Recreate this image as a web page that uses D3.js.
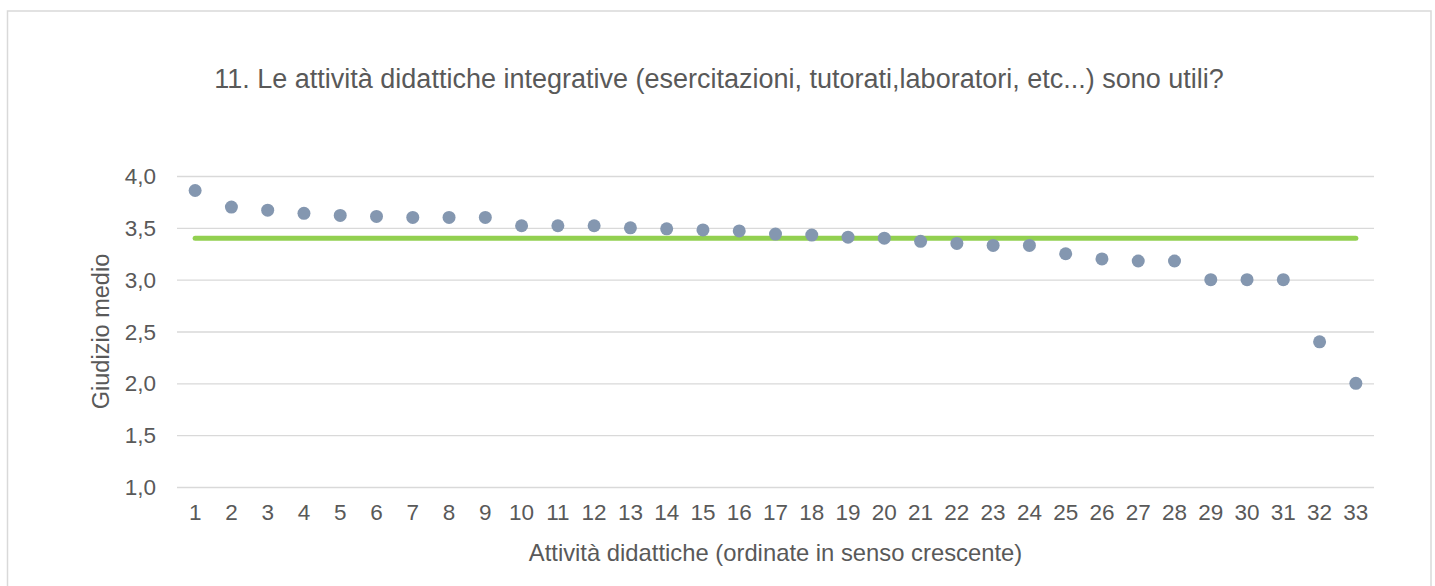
<!DOCTYPE html>
<html>
<head>
<meta charset="utf-8">
<script src="https://d3js.org/d3.v7.min.js"></script>
<style>
    body { margin: 0; background: #ffffff; overflow: hidden; }
    text { font-family: "Liberation Sans", Arial, sans-serif; fill: #595959; }
</style>
</head>
<body>
<div id="containerChart"></div>
<script>

// data
var activities = d3.range(1, 34);
var averageScores = [3.86, 3.70, 3.67, 3.64, 3.62, 3.61, 3.60, 3.60, 3.60, 3.52,
                     3.52, 3.52, 3.50, 3.49, 3.48, 3.47, 3.44, 3.43, 3.41, 3.40,
                     3.37, 3.35, 3.33, 3.33, 3.25, 3.20, 3.18, 3.18, 3.00, 3.00,
                     3.00, 2.40, 2.00];
var overallAverage = 3.40;
var yTicks = [1.0, 1.5, 2.0, 2.5, 3.0, 3.5, 4.0];

var chartTitle = "11. Le attività didattiche integrative (esercitazioni, tutorati,laboratori, etc...) sono utili?";
var xTitle = "Attività didattiche (ordinate in senso crescente)";
var yTitle = "Giudizio medio";

// characteristics for svg and plot area
var outerWidth = 1435;
var outerHeight = 586;
var margin = { left: 177, top: 176, right: 61, bottom: 99 };

var svg = d3.select("#containerChart")
    .append("svg")
    .attr("width", outerWidth)
    .attr("height", outerHeight)
    .style("display", "block");

// chart border (bottom edge runs past the picture)
svg.append("path")
    .attr("d", "M7.5,586V11H1431V586")
    .attr("fill", "none")
    .attr("stroke", "#d9d9d9")
    .attr("stroke-width", 1.5);

// scales in page coordinates
var xScale = d3.scaleBand().domain(activities).range([margin.left, outerWidth - margin.right]);
var yScale = d3.scaleLinear().domain([1, 4]).range([outerHeight - margin.bottom, margin.top]);

var fmt = function(d) { return d3.format(".1f")(d).replace(".", ","); };
var xCenter = function(d) { return xScale(d) + xScale.bandwidth() / 2; };

// gridlines
var gridG = svg.append("g")
    .attr("transform", "translate(" + margin.left + ",0)")
    .call(d3.axisLeft(yScale)
        .tickValues(yTicks)
        .tickSize(-(outerWidth - margin.left - margin.right))
        .tickFormat(""));
gridG.select(".domain").remove();
gridG.selectAll("line").attr("stroke", "#d9d9d9").attr("stroke-width", 1.4);
gridG.selectAll("text").remove();

// y labels
svg.selectAll("text.ylabel")
    .data(yTicks)
    .enter()
    .append("text")
    .attr("class", "ylabel")
    .attr("x", margin.left - 21)
    .attr("y", function(d) { return yScale(d) + 8; })
    .attr("text-anchor", "end")
    .style("font-size", "22.5px")
    .text(fmt);

// x labels
svg.selectAll("text.xlabel")
    .data(activities)
    .enter()
    .append("text")
    .attr("class", "xlabel")
    .attr("x", xCenter)
    .attr("y", yScale(1) + 33)
    .attr("text-anchor", "middle")
    .style("font-size", "22.5px")
    .text(function(d) { return d; });

// average line
svg.append("line")
    .attr("x1", xCenter(activities[0]))
    .attr("x2", xCenter(activities[activities.length - 1]))
    .attr("y1", yScale(overallAverage))
    .attr("y2", yScale(overallAverage))
    .attr("stroke", "#92d050")
    .attr("stroke-width", 5)
    .attr("stroke-linecap", "round");

// points
svg.selectAll("circle")
    .data(averageScores)
    .enter()
    .append("circle")
    .attr("cx", function(d, i) { return xCenter(activities[i]); })
    .attr("cy", function(d) { return yScale(d); })
    .attr("r", 6.5)
    .attr("fill", "#8497b0");

// titles
svg.append("text")
    .attr("x", 719)
    .attr("y", 88)
    .attr("text-anchor", "middle")
    .style("font-size", "27px")
    .text(chartTitle);

svg.append("text")
    .attr("x", (margin.left + outerWidth - margin.right) / 2)
    .attr("y", 561)
    .attr("text-anchor", "middle")
    .style("font-size", "23.8px")
    .text(xTitle);

svg.append("text")
    .attr("transform", "translate(109," + (margin.top + outerHeight - margin.bottom) / 2 + ") rotate(-90)")
    .attr("text-anchor", "middle")
    .style("font-size", "23.5px")
    .text(yTitle);

</script>
</body>
</html>
